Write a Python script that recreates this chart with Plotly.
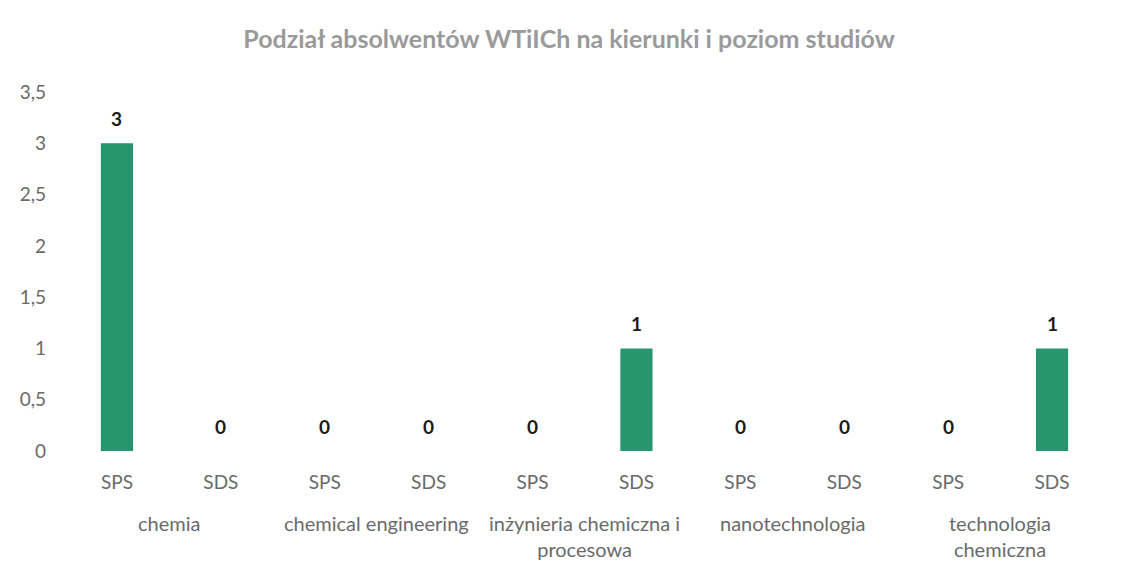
import plotly.graph_objects as go

# data
courses = [
    "chemia",
    "chemical engineering",
    "inżynieria chemiczna i<br>procesowa",
    "nanotechnologia",
    "technologia<br>chemiczna",
]
levels = ["SPS", "SDS"]
values = [3, 0, 0, 0, 0, 1, 0, 0, 0, 1]

tick_text = [lvl for _ in courses for lvl in levels]
xpos = list(range(len(tick_text)))

axis_grey = "#6a6a6a"
font_family = "Lato, 'Open Sans', sans-serif"

fig = go.Figure()
fig.add_trace(
    go.Bar(
        x=xpos,
        y=values,
        marker=dict(color="#27956d", line=dict(width=0)),
        width=0.31,
        showlegend=False,
        hoverinfo="y",
    )
)

# value labels above bars
for x, v in zip(xpos, values):
    fig.add_annotation(
        x=x,
        y=v,
        text="<b>%d</b>" % v,
        showarrow=False,
        yshift=25,
        font=dict(family=font_family, size=19, color="#1a1a1a"),
    )

# course names under each SPS/SDS pair
for i, name in enumerate(courses):
    fig.add_annotation(
        x=i * len(levels) + (len(levels) - 1) / 2,
        y=0,
        yref="paper",
        yanchor="top",
        yshift=-58,
        text=name,
        showarrow=False,
        align="center",
        font=dict(family=font_family, size=20, color=axis_grey),
    )

# page body has an 8px margin, margins below allow for it
fig.update_layout(
    width=1122,
    height=573,
    margin=dict(l=57, r=26, t=84, b=130),
    paper_bgcolor="white",
    plot_bgcolor="white",
    separators=", ",
    title=dict(
        text="<b>Podział absolwentów WTiICh na kierunki i poziom studiów</b>",
        x=0.5,
        xanchor="center",
        y=0.945,
        yanchor="middle",
        font=dict(family=font_family, size=25, color="#9a9a9a"),
    ),
    font=dict(family=font_family, size=18, color=axis_grey),
)
fig.update_xaxes(
    tickmode="array",
    tickvals=xpos,
    ticktext=tick_text,
    range=[-0.5, len(xpos) - 0.5],
    showgrid=False,
    zeroline=False,
    showline=False,
    ticklabelstandoff=18,
    tickfont=dict(size=19, color=axis_grey),
)
fig.update_yaxes(
    range=[0, 3.5],
    dtick=0.5,
    showgrid=False,
    zeroline=False,
    showline=False,
    ticklabelstandoff=18,
    tickfont=dict(size=19, color=axis_grey),
)

fig.write_html("out.html")
